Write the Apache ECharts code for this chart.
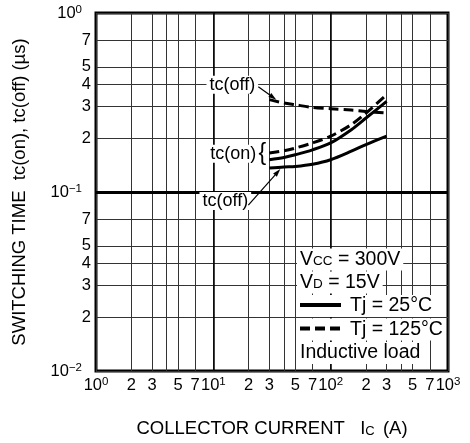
<!DOCTYPE html>
<html><head><meta charset="utf-8">
<script src="https://cdn.jsdelivr.net/npm/echarts@6/dist/echarts.min.js"></script>
<style>html,body{margin:0;padding:0;background:#fff}#c{width:470px;height:443px}</style>
</head><body><div id="c"></div>
<script>
// Collector current Ic (A)
const current = [30, 40, 50, 70, 100, 150, 200, 300];
// Switching times (µs)
const tcOff125 = [0.328, 0.314, 0.307, 0.297, 0.292, 0.287, 0.282, 0.276];
const tcOn125  = [0.165, 0.170, 0.176, 0.188, 0.205, 0.238, 0.276, 0.350];
const tcOn25   = [0.1515, 0.156, 0.1615, 0.172, 0.188, 0.223, 0.259, 0.321];
const tcOff25  = [0.136, 0.138, 0.139, 0.143, 0.1515, 0.169, 0.184, 0.205];
// Tick labels and grid lines
const xLabelValues = [1, 2, 3, 5, 7, 10, 20, 30, 50, 70, 100, 200, 300, 500, 700, 1000];
const xGridValues  = [1, 2, 3, 4, 5, 7, 10, 20, 30, 40, 50, 70, 100, 200, 300, 400, 500, 700, 1000];
const yLabelValues = [0.01, 0.02, 0.03, 0.04, 0.05, 0.07, 0.1, 0.2, 0.3, 0.4, 0.5, 0.7, 1];
const yGridValues  = [0.01, 0.02, 0.03, 0.04, 0.05, 0.07, 0.1, 0.2, 0.3, 0.4, 0.5, 0.7, 1];
const xDecadeLines = [10, 100];
const yDecadeLines = [0.1];
const legendLines = ['V{s|CC} = 300V', 'V{s|D} = 15V', 'Tj = 25°C', 'Tj = 125°C', 'Inductive load'];

const FONT = '"Liberation Sans", Arial, Helvetica, sans-serif';

function isDecade(v) {
  const l = Math.log10(v);
  return Math.abs(l - Math.round(l)) < 1e-6;
}
function supText(e) { return e < 0 ? '\u2212' + (-e) : String(e); }
function fmtX(v) {
  if (isDecade(v)) return '{b|10}{sup|' + supText(Math.round(Math.log10(v))) + '}';
  const e = Math.floor(Math.log10(v) + 1e-9);
  return '{b|' + Math.round(v / Math.pow(10, e)) + '}';
}
function fmtY(v) {
  if (isDecade(v)) return '{b|10}{supy|' + supText(Math.round(Math.log10(v))) + '}';
  const e = Math.floor(Math.log10(v) + 1e-9);
  return '{b|' + Math.round(v / Math.pow(10, e)) + '}';
}
const labelRich = {
  b: { fontSize: 16.5, fontFamily: FONT, color: '#000', lineHeight: 18 },
  sup: { fontSize: 11.5, fontFamily: FONT, color: '#000', verticalAlign: 'top', lineHeight: 11 },
  supy: { fontSize: 11.5, fontFamily: FONT, color: '#000', verticalAlign: 'top', lineHeight: 11, padding: [0, 9, 0, 0] }
};

const chart = echarts.init(document.getElementById('c'), null, { renderer: 'canvas' });

function mkSeries(name, data, dashed) {
  return {
    name: name, type: 'line', smooth: 0.3, symbol: 'none', silent: true,
    data: current.map((c, i) => [c, data[i]]),
    lineStyle: { color: '#000', width: 3, type: dashed ? [10, 5] : 'solid' },
    z: 5
  };
}

const series = [
  mkSeries('tcOff125', tcOff125, true),
  mkSeries('tcOn125', tcOn125, true),
  mkSeries('tcOn25', tcOn25, false),
  mkSeries('tcOff25', tcOff25, false)
];
series[3].markLine = {
  silent: true, symbol: 'none', animation: false,
  label: { show: false },
  lineStyle: { color: '#000', width: 1.5, type: 'solid' },
  data: xDecadeLines.map(v => ({ xAxis: v }))
    .concat(yDecadeLines.map(v => ({ yAxis: v, lineStyle: { width: 3, color: '#000', type: 'solid' } })))
};

chart.setOption({
  animation: false,
  backgroundColor: '#fff',
  textStyle: { fontFamily: FONT },
  grid: {
    left: 96, right: 22, top: 13, bottom: 72,
    show: true, borderColor: '#000', borderWidth: 3, backgroundColor: 'transparent',
    outerBoundsMode: 'none', containLabel: false
  },
  xAxis: {
    type: 'log', logBase: 10, min: 1, max: 1000,
    name: 'COLLECTOR CURRENT   I{s|C} (A)',
    nameLocation: 'middle', nameGap: 48,
    nameTextStyle: {
      fontSize: 18.5, fontFamily: FONT, color: '#000',
      rich: { s: { fontSize: 13, fontFamily: FONT, color: '#000', verticalAlign: 'bottom', lineHeight: 18, padding: [0, 3, 0, 0] } }
    },
    axisLine: { show: false },
    axisTick: { show: false, customValues: xGridValues },
    axisLabel: { customValues: xLabelValues, formatter: fmtX, rich: labelRich, margin: 5, hideOverlap: false },
    splitLine: { show: true, lineStyle: { color: '#333', width: 1 } },
    minorSplitLine: { show: false }
  },
  yAxis: {
    type: 'log', logBase: 10, min: 0.01, max: 1,
    name: 'SWITCHING TIME  tc(on), tc(off) (\u00b5s)',
    nameLocation: 'middle', nameGap: 67,
    nameTextStyle: { fontSize: 18.5, fontFamily: FONT, color: '#000' },
    axisLine: { show: false },
    axisTick: { show: false, customValues: yGridValues },
    axisLabel: { customValues: yLabelValues, formatter: fmtY, rich: labelRich, margin: 5, hideOverlap: false },
    splitLine: { show: true, lineStyle: { color: '#333', width: 1 } }
  },
  series: series
});

// Annotations anchored to the data via the chart's own scales
const px = (x, y) => chart.convertToPixel({ gridIndex: 0 }, [x, y]);
const pOff125 = px(current[0], tcOff125[0]);
const pOn25 = px(current[0], tcOn25[0]);
const pOff25 = px(current[0], tcOff25[0]);
const corner = px(1000, 0.01); // bottom-right of plot

function arrow(sx, sy, tx, ty) {
  const dx = tx - sx, dy = ty - sy, L = Math.hypot(dx, dy);
  const ux = dx / L, uy = dy / L, nx = -uy, ny = ux;
  const bx = tx - ux * 8, by = ty - uy * 8;
  return [
    { type: 'line', z: 20, shape: { x1: sx, y1: sy, x2: bx, y2: by }, style: { stroke: '#000', lineWidth: 1.2 } },
    { type: 'polygon', z: 20, shape: { points: [[tx, ty], [bx + nx * 2.5, by + ny * 2.5], [bx - nx * 2.5, by - ny * 2.5]] }, style: { fill: '#000' } }
  ];
}
function label(text, cx, cy, size) {
  return {
    type: 'text', z: 20, x: cx, y: cy,
    style: {
      text: text, fontSize: size || 18, fontFamily: FONT, fill: '#000',
      align: 'center', verticalAlign: 'middle',
      backgroundColor: '#fff', padding: [0, 3]
    }
  };
}

const g = [];
g.push(label('tc(off)', pOff125[0] - 37, pOff125[1] - 15));
g.push(...arrow(pOff125[0] - 11, pOff125[1] - 13, pOff125[0] + 7, pOff125[1] + 0));
g.push(label('tc(on)', pOn25[0] - 36, pOn25[1] - 6));
g.push({
  type: 'text', z: 20, x: pOn25[0] - 7, y: pOn25[1] - 6,
  style: { text: '{', fontSize: 23, fontFamily: FONT, fill: '#000', align: 'center', verticalAlign: 'middle' }
});
g.push(label('tc(off)', pOff25[0] - 44, pOff25[1] + 33));
g.push(...arrow(pOff25[0] - 21, pOff25[1] + 37, pOff25[0] + 11, pOff25[1] + 1));

// Legend / condition box
const lx = corner[0] - 148;
const rowY = [-111.5, -88.5, -65, -41.5, -18].map(d => corner[1] + d);
const legRich = {
  s: { fontSize: 13.5, fontFamily: FONT, fill: '#000', verticalAlign: 'bottom', lineHeight: 16, padding: [0, 0, 1, 0] }
};
function legText(text, x, y) {
  return {
    type: 'text', z: 20, x: x, y: y,
    style: {
      text: text, fontSize: 19.5, fontFamily: FONT, fill: '#000', align: 'left', verticalAlign: 'middle',
      backgroundColor: '#fff', padding: [1, 3, 1, 3], rich: legRich
    }
  };
}
g.push(legText(legendLines[0], lx - 3, rowY[0]));
g.push(legText(legendLines[1], lx - 3, rowY[1]));
g.push({ type: 'rect', z: 19, shape: { x: lx - 3, y: rowY[2] - 11, width: 56, height: 22 }, style: { fill: '#fff' } });
g.push({ type: 'line', z: 21, shape: { x1: lx, y1: rowY[2] - 1, x2: lx + 41, y2: rowY[2] - 1 }, style: { stroke: '#000', lineWidth: 4 } });
g.push(legText(legendLines[2], lx + 47, rowY[2]));
g.push({ type: 'rect', z: 19, shape: { x: lx - 3, y: rowY[3] - 11, width: 56, height: 22 }, style: { fill: '#fff' } });
g.push({ type: 'line', z: 21, shape: { x1: lx, y1: rowY[3] - 1, x2: lx + 41, y2: rowY[3] - 1 }, style: { stroke: '#000', lineWidth: 4, lineDash: [10, 5] } });
g.push(legText(legendLines[3], lx + 47, rowY[3]));
g.push(legText(legendLines[4], lx - 3, rowY[4]));

chart.setOption({ graphic: { elements: g } });
</script>
</body></html>
